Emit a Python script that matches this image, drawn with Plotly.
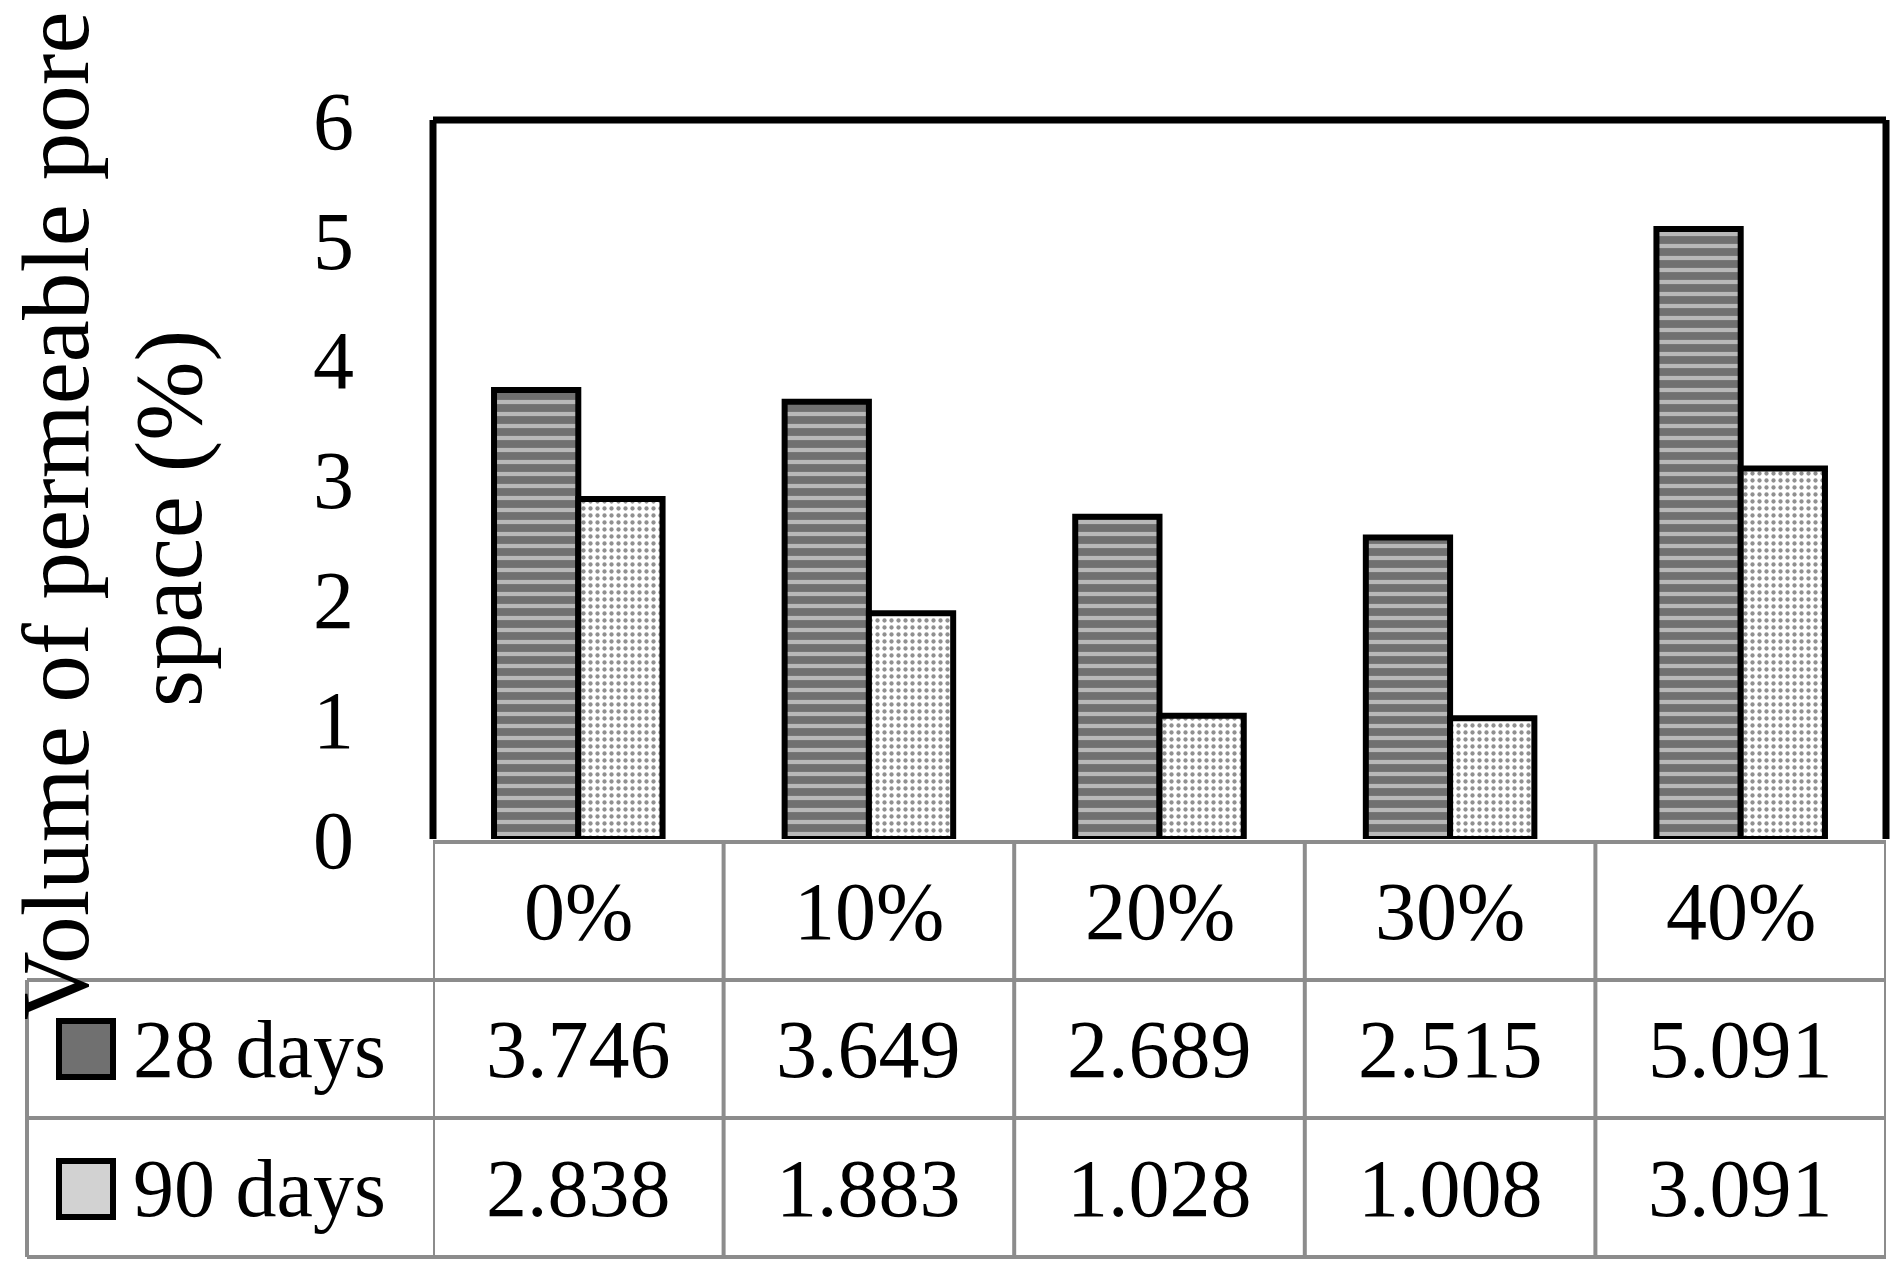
import plotly.graph_objects as go

categories = ["0%", "10%", "20%", "30%", "40%"]
series_names = ["28 days", "90 days"]
days28 = [3.746, 3.649, 2.689, 2.515, 5.091]
days90 = [2.838, 1.883, 1.028, 1.008, 3.091]
y_ticks = [0, 1, 2, 3, 4, 5, 6]
title_lines = ["Volume of permeable pore", "space (%)"]

FONT = "Liberation Serif"
FS = 82
GRID = "#8c8c8c"

W, H = 1902, 1279
ML, MR, MT, MB = 433, 16, 120, 440
PW = W - ML - MR
PH = H - MT - MB


def px_x(p):
    return (p - ML) / PW


def px_y(p):
    return (H - MB - p) / PH


fig = go.Figure()
xs = list(range(len(categories)))
fig.add_trace(go.Bar(
    x=xs, y=days28, name=series_names[0],
    marker=dict(color="#707070", line=dict(color="black", width=6),
                pattern=dict(shape="-", bgcolor="#707070", fgcolor="white",
                             size=12, solidity=0.35)),
))
fig.add_trace(go.Bar(
    x=xs, y=days90, name=series_names[1],
    marker=dict(color="white", line=dict(color="black", width=6),
                pattern=dict(shape=".", bgcolor="white", fgcolor="#222222",
                             size=7, solidity=0.3)),
))

shapes = []
# plot frame (top, left, right) in black
frame = dict(type="line", xref="x domain", yref="y domain",
             line=dict(color="black", width=7), layer="above")
shapes.append({**frame, "x0": 0, "x1": 0, "y0": 0, "y1": 1})
shapes.append({**frame, "x0": 1, "x1": 1, "y0": 0, "y1": 1})
shapes.append({**frame, "x0": 0, "x1": 1, "y0": 1, "y1": 1})

# table rows (paper coordinates)
row_lines = [px_y(842), px_y(980), px_y(1118), px_y(1257)]
left_edge = px_x(27)
gl = dict(color=GRID, width=4)
shapes.append(dict(type="line", xref="paper", yref="paper", x0=0, x1=1,
                   y0=row_lines[0], y1=row_lines[0], line=gl, layer="above"))
for yy in row_lines[1:]:
    shapes.append(dict(type="line", xref="paper", yref="paper", x0=left_edge, x1=1,
                       y0=yy, y1=yy, line=gl))
for i in range(len(categories) + 1):
    shapes.append(dict(type="line", xref="x", yref="paper", x0=i - 0.5, x1=i - 0.5,
                       y0=row_lines[0], y1=row_lines[-1], line=gl, layer="above"))
shapes.append(dict(type="line", xref="paper", yref="paper", x0=left_edge, x1=left_edge,
                   y0=row_lines[1], y1=row_lines[-1], line=gl))

# legend swatches
sw_fill = ["#707070", "#d2d2d2"]
sw_y = [(1021, 1077), (1161, 1217)]
for k in range(2):
    shapes.append(dict(type="rect", xref="paper", yref="paper",
                       x0=px_x(59), x1=px_x(113), y0=px_y(sw_y[k][1]), y1=px_y(sw_y[k][0]),
                       fillcolor=sw_fill[k], line=dict(color="black", width=6)))

annotations = []
txt_font = dict(family=FONT, size=FS, color="black")
hdr_y = px_y(911)
row_y = [px_y(1049), px_y(1188)]
for i, c in enumerate(categories):
    annotations.append(dict(x=i, y=hdr_y, xref="x", yref="paper", text=c, showarrow=False,
                            xanchor="center", yanchor="middle", font=txt_font))
for r, vals in enumerate([days28, days90]):
    for i, v in enumerate(vals):
        annotations.append(dict(x=i, y=row_y[r], xref="x", yref="paper", text=f"{v:.3f}",
                                showarrow=False, xanchor="center", yanchor="middle",
                                font=txt_font))
    annotations.append(dict(x=px_x(131), y=row_y[r], xref="paper", yref="paper",
                            text=series_names[r], xanchor="left", yanchor="middle",
                            showarrow=False, font=txt_font))

# y-axis title (two lines, rotated)
title_pos = [(56, 516), (169, 519)]
for line, (tx, ty) in zip(title_lines, title_pos):
    annotations.append(dict(x=px_x(tx), y=px_y(ty), xref="paper", yref="paper",
                            text=line, textangle=-90, showarrow=False,
                            xanchor="center", yanchor="middle",
                            font=dict(family=FONT, size=95, color="black")))

fig.update_layout(
    width=W, height=H,
    margin=dict(l=ML, r=MR, t=MT, b=MB),
    paper_bgcolor="white", plot_bgcolor="white",
    barmode="group", bargap=0.42, bargroupgap=0,
    showlegend=False,
    shapes=shapes, annotations=annotations,
    xaxis=dict(range=[-0.5, 4.5], showticklabels=False, showgrid=False,
               zeroline=False, showline=False, ticks=""),
    yaxis=dict(range=[0, 6], tickvals=y_ticks, showgrid=False, zeroline=False,
               showline=False, ticks="", ticklabelstandoff=78,
               tickfont=dict(family=FONT, size=FS, color="black")),
)

fig.write_html("out.html", config={"displayModeBar": False},
               post_script="document.body.style.margin='0px';")
